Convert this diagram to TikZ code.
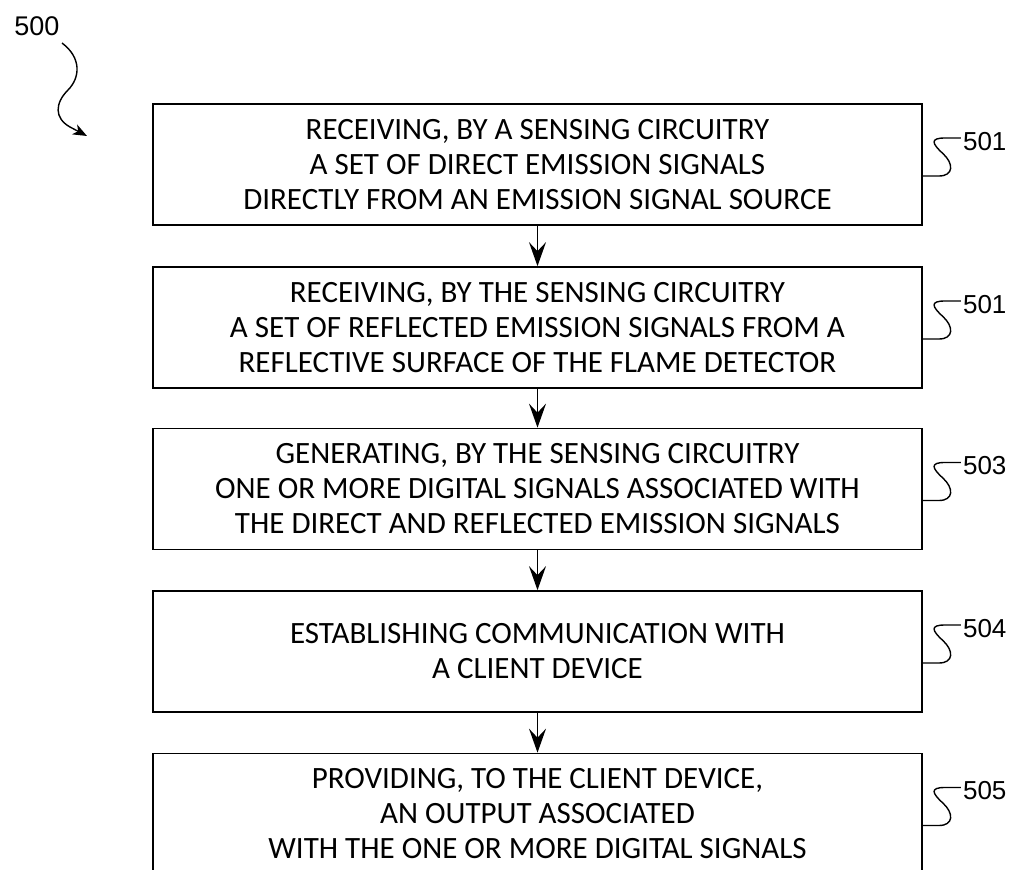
\documentclass[tikz,border=0pt]{standalone}
\usepackage{fontspec}
\setmainfont{Carlito}
\newfontfamily\numfont{Liberation Sans}
\usetikzlibrary{arrows.meta}
\tikzset{
  stepbox/.style={draw, line width=1.7pt, minimum width=769pt, minimum height=121pt,
    inner sep=0pt, align=center, font=\fontsize{31}{35}\selectfont},
  flow/.style={line width=1.5pt, -{Stealth[length=24pt, width=17pt, inset=9pt]}},
  lead/.style={line width=1.4pt},
  reflabel/.style={anchor=west, inner sep=0pt, font=\numfont\fontsize{26}{26}\selectfont},
}
\begin{document}
\begin{tikzpicture}[x=1pt, y=-1pt]
\useasboundingbox (0,0) rectangle (1013,870);
\clip (0,0) rectangle (1013,870);

% process steps
\node[stepbox] (b1) at (537.5,164.5) {RECEIVING, BY A SENSING CIRCUITRY\\A SET OF DIRECT EMISSION SIGNALS\\DIRECTLY FROM AN EMISSION SIGNAL SOURCE};
\node[stepbox] (b2) at (537.5,327.5) {RECEIVING, BY THE SENSING CIRCUITRY\\A SET OF REFLECTED EMISSION SIGNALS FROM A\\REFLECTIVE SURFACE OF THE FLAME DETECTOR};
\node[stepbox] (b3) at (537.5,489) {GENERATING, BY THE SENSING CIRCUITRY\\ONE OR MORE DIGITAL SIGNALS ASSOCIATED WITH\\THE DIRECT AND REFLECTED EMISSION SIGNALS};
\node[stepbox] (b4) at (537.5,651.5) {ESTABLISHING COMMUNICATION WITH\\A CLIENT DEVICE};
\node[stepbox] (b5) at (537.5,814) {PROVIDING, TO THE CLIENT DEVICE,\\AN OUTPUT ASSOCIATED\\WITH THE ONE OR MORE DIGITAL SIGNALS};

% flow between steps
\draw[flow] (b1.south) -- (b2.north);
\draw[flow] (b2.south) -- (b3.north);
\draw[flow] (b3.south) -- (b4.north);
\draw[flow] (b4.south) -- (b5.north);

% reference numerals with S-shaped leaders
\foreach \b/\n in {b1/501, b2/501, b3/503, b4/504, b5/505}{
  \begin{scope}[shift={(\b.east)}]
    \draw[lead] (0,11.5) -- (16,11.5) .. controls (31,11.5) and (31,-1) .. (20,-11)
      .. controls (9,-21) and (7,-26.5) .. (22,-26.5) -- (38,-26.5);
    \node[reflabel] (l\b) at (40,-23) {\n};
  \end{scope}
}

% figure numeral
\node[font=\numfont\fontsize{27}{27}\selectfont, inner sep=0pt] (fig) at (37,26) {500};
\draw[line width=1.4pt, -{Stealth[length=14pt, width=11pt, inset=4pt]}]
  (62,43) .. controls (82,58) and (80,78) .. (68,90)
  .. controls (55,103) and (54,118) .. (70,127) -- (87,136);
\end{tikzpicture}
\end{document}
